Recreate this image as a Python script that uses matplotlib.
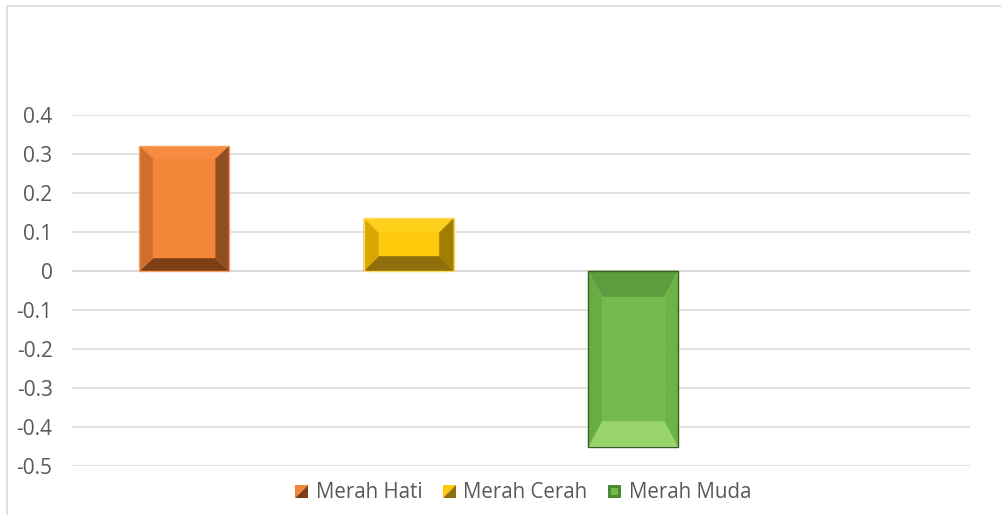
import numpy as np
import matplotlib
matplotlib.use("Agg")
import matplotlib.pyplot as plt
from matplotlib.patches import Polygon
from matplotlib.legend_handler import HandlerBase
from matplotlib.lines import Line2D

plt.rcParams['font.family'] = ['Open Sans', 'DejaVu Sans']

# data
names = ["Merah Hati", "Merah Cerah", "Merah Muda"]
values = [0.32, 0.135, -0.45]
yticks = [0.4, 0.3, 0.2, 0.1, 0, -0.1, -0.2, -0.3, -0.4, -0.5]
ytick_labels = ["0.4", "0.3", "0.2", "0.1", "0", "-0.1", "-0.2", "-0.3", "-0.4", "-0.5"]

# bevel shades: center, top, bottom, left, right, edge
shades = [
    dict(center="#F4863A", top="#F68C40", bottom="#7C3F16", left="#D06E2B",
         right="#924E1E", edge="#F7A066"),
    dict(center="#FFC90B", top="#FFD01A", bottom="#8E6F0C", left="#DAA600",
         right="#A17E00", edge="#FFD85A"),
    dict(center="#74BA4C", top="#5F9B3F", bottom="#9AD56C", left="#68AC45",
         right="#6DB447", edge="#35621F"),
]
bevel_px = [(14, 13), (15, 15), (14, 26)]

grid_c = "#D9D9D9"
text_c = "#595959"

fig = plt.figure(figsize=(10.01, 5.15), dpi=100)
ax = fig.add_axes([72 / 1001, 49 / 515, 898 / 1001, 351 / 515])
ax.set_xlim(-0.5, 3.5)
ax.set_ylim(-0.5, 0.4)
ax.set_yticks(yticks)
ax.set_yticklabels(ytick_labels)
ax.set_xticks([])
ax.grid(axis="y", color=grid_c, lw=1.1, zorder=0)
ax.set_axisbelow(True)
for s in ax.spines.values():
    s.set_visible(False)
ax.tick_params(axis="y", length=0, pad=14, labelsize=15, labelcolor=text_c)
ax.axhline(0, color=grid_c, lw=1.1, zorder=1)

px_x = (898 / 4.0)
px_y = (351 / 0.9)
w = 0.4

for i, (v, sh, (bxp, byp)) in enumerate(zip(values, shades, bevel_px)):
    bx = bxp / px_x
    by = byp / px_y
    x0, x1 = i - w / 2, i + w / 2
    y0, y1 = min(0, v), max(0, v)
    xi0, xi1 = x0 + bx, x1 - bx
    yi0, yi1 = y0 + by, y1 - by
    polys = [
        ([(x0, y1), (x1, y1), (xi1, yi1), (xi0, yi1)], sh["top"]),
        ([(x0, y0), (x1, y0), (xi1, yi0), (xi0, yi0)], sh["bottom"]),
        ([(x0, y0), (x0, y1), (xi0, yi1), (xi0, yi0)], sh["left"]),
        ([(x1, y0), (x1, y1), (xi1, yi1), (xi1, yi0)], sh["right"]),
        ([(xi0, yi0), (xi1, yi0), (xi1, yi1), (xi0, yi1)], sh["center"]),
    ]
    for pts, c in polys:
        ax.add_patch(Polygon(pts, closed=True, facecolor=c, edgecolor=c,
                             lw=0.3, zorder=3))
    ax.add_patch(Polygon([(x0, y0), (x1, y0), (x1, y1), (x0, y1)], closed=True,
                         fill=False, edgecolor=sh["edge"], lw=1.0, zorder=4))


class HandlerBevel(HandlerBase):
    def __init__(self, sh, inner=False):
        super().__init__()
        self.sh = sh
        self.inner = inner

    def create_artists(self, legend, orig_handle, xdescent, ydescent, width,
                       height, fontsize, trans):
        s = min(width, height) * 1.0
        x0 = -xdescent + (width - s) / 2
        y0 = -ydescent + (height - s) / 2 - 1
        if self.inner:
            outer = Polygon([(x0, y0), (x0 + s, y0), (x0 + s, y0 + s), (x0, y0 + s)],
                            closed=True, facecolor="#4E8A33", edgecolor="none",
                            transform=trans)
            d = s * 0.25
            inn = Polygon([(x0 + d, y0 + d), (x0 + s - d, y0 + d),
                           (x0 + s - d, y0 + s - d), (x0 + d, y0 + s - d)],
                          closed=True, facecolor=self.sh["center"], edgecolor="none",
                          transform=trans)
            return [outer, inn]
        a = Polygon([(x0, y0), (x0, y0 + s), (x0 + s, y0 + s)], closed=True,
                    facecolor=self.sh["center"], edgecolor="none", transform=trans)
        b = Polygon([(x0, y0), (x0 + s, y0), (x0 + s, y0 + s)], closed=True,
                    facecolor=self.sh["bottom"], edgecolor="none", transform=trans)
        return [a, b]


handles = [Line2D([], [], color=sh["center"]) for sh in shades]
hmap = {h: HandlerBevel(sh, inner=(k == 2)) for k, (h, sh) in enumerate(zip(handles, shades))}
ax.legend(handles, names, loc="center", bbox_to_anchor=(523 / 1001, 23 / 515),
          bbox_transform=fig.transFigure, ncol=3, frameon=False,
          handler_map=hmap,
          handlelength=0.65, handleheight=0.65, handletextpad=0.35,
          columnspacing=1.0, fontsize=14.8, labelcolor=text_c)

# chart frame (left and top border)
fig.add_artist(Line2D([7 / 1001, 7 / 1001], [0, 1 - 6 / 515], transform=fig.transFigure,
                      color=grid_c, lw=1.2))
fig.add_artist(Line2D([7 / 1001, 1], [1 - 6 / 515, 1 - 6 / 515], transform=fig.transFigure,
                      color=grid_c, lw=1.2))

fig.savefig("out.png", dpi=100)
